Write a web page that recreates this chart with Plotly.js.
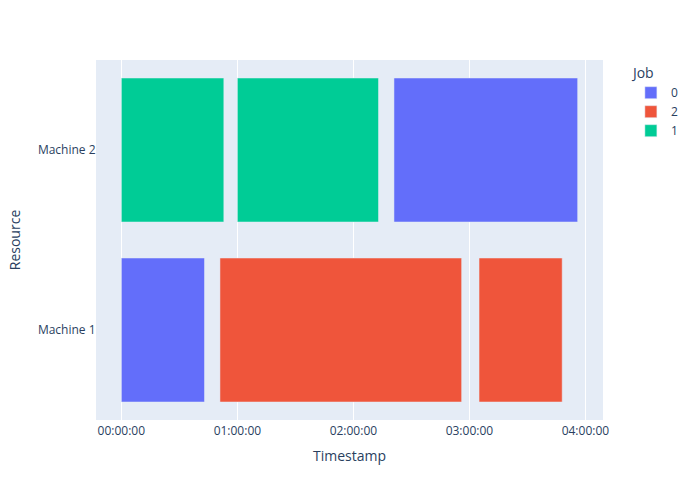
<!DOCTYPE html>
<html>
<head>
<meta charset="utf-8">
<script src="https://cdn.plot.ly/plotly-3.0.1.min.js"></script>
<style>html,body{margin:0;padding:0;}#chart{width:700px;height:500px;}</style>
</head>
<body>
<div id="chart"></div>
<script>
// Job order as in legend
const jobs = ["0", "2", "1"];
const jobColors = ["#636efa", "#EF553B", "#00cc96"];

// Job 0 tasks
const job0Resource = ["Machine 2", "Machine 1"];
const job0Start = ["2024-01-01 02:21:00", "2024-01-01 00:00:00"];
const job0Finish = ["2024-01-01 03:56:00", "2024-01-01 00:43:00"];

// Job 2 tasks
const job2Resource = ["Machine 1", "Machine 1"];
const job2Start = ["2024-01-01 00:51:00", "2024-01-01 03:05:00"];
const job2Finish = ["2024-01-01 02:56:00", "2024-01-01 03:48:00"];

// Job 1 tasks
const job1Resource = ["Machine 2", "Machine 2"];
const job1Start = ["2024-01-01 00:00:00", "2024-01-01 01:00:00"];
const job1Finish = ["2024-01-01 00:53:00", "2024-01-01 02:13:00"];

const resources = ["Machine 2", "Machine 1"];

const taskSets = [
  [job0Resource, job0Start, job0Finish],
  [job2Resource, job2Start, job2Finish],
  [job1Resource, job1Start, job1Finish]
];

function toMs(s) { return new Date(s.replace(" ", "T") + "Z").getTime(); }

const traces = taskSets.map((set, i) => {
  const [res, st, fi] = set;
  return {
    type: "bar",
    orientation: "h",
    name: jobs[i],
    legendgroup: jobs[i],
    y: res,
    base: st,
    x: st.map((s, k) => toMs(fi[k]) - toMs(s)),
    marker: {color: jobColors[i], line: {color: "#E5ECF6", width: 0.5}},
    showlegend: true
  };
});

const layout = {
  width: 700,
  height: 500,
  barmode: "overlay",
  paper_bgcolor: "white",
  plot_bgcolor: "#E5ECF6",
  font: {family: '"Open Sans", verdana, arial, sans-serif', size: 12, color: "#2a3f5f"},
  margin: {t: 60, b: 80, l: 96, r: 97},
  xaxis: {
    type: "date",
    title: {text: "Timestamp", font: {size: 14}, standoff: 12},
    tickformat: "%H:%M:%S",
    gridcolor: "white",
    linecolor: "white",
    zerolinecolor: "white",
    automargin: true
  },
  yaxis: {
    type: "category",
    title: {text: "Resource", font: {size: 14}, standoff: 14},
    categoryorder: "array",
    categoryarray: resources,
    autorange: "reversed",
    showgrid: false,
    linecolor: "white",
    ticklabelstandoff: -3,
    automargin: true
  },
  legend: {title: {text: "Job"}, tracegroupgap: 0, x: 1.055}
};

Plotly.newPlot("chart", traces, layout, {displayModeBar: false});
</script>
</body>
</html>
